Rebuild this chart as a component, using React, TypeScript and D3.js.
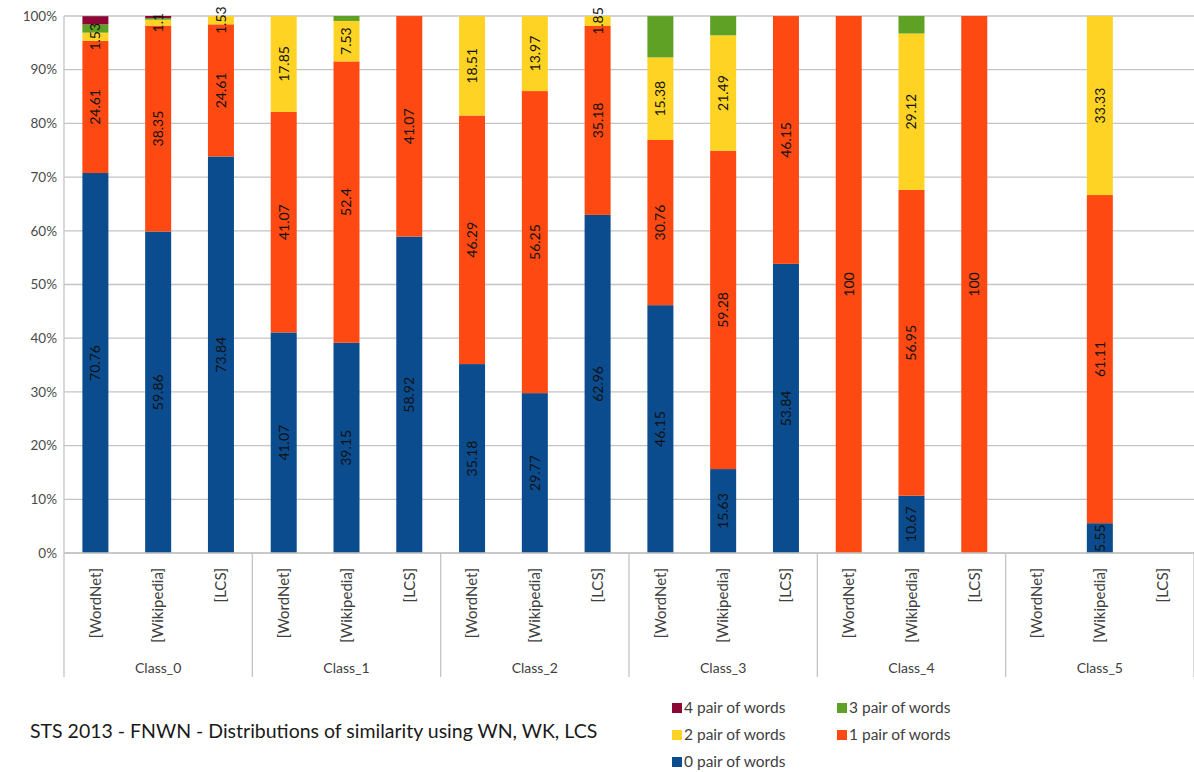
import React from 'react';
import * as d3 from 'd3';

// categories
const classes = ['Class_0', 'Class_1', 'Class_2', 'Class_3', 'Class_4', 'Class_5'];
const methods = ['[WordNet]', '[Wikipedia]', '[LCS]'];

// one value per bar, in order Class_0 WordNet, Class_0 Wikipedia, Class_0 LCS, Class_1 ...
const pair0 = [70.76, 59.86, 73.84, 41.07, 39.15, 58.92, 35.18, 29.77, 62.96, 46.15, 15.63, 53.84, 0, 10.67, 0, 0, 5.55, 0];
const pair1 = [24.61, 38.35, 24.61, 41.07, 52.4, 41.07, 46.29, 56.25, 35.18, 30.76, 59.28, 46.15, 100, 56.95, 100, 0, 61.11, 0];
const pair2 = [1.53, 1.1, 1.53, 17.85, 7.53, 0, 18.51, 13.97, 1.85, 15.38, 21.49, 0, 0, 29.12, 0, 0, 33.33, 0];
const pair3 = [1.53, 0.3, 0, 0, 0.92, 0, 0, 0, 0, 7.69, 3.6, 0, 0, 3.26, 0, 0, 0, 0];
const pair4 = [1.53, 0.39, 0, 0, 0, 0, 0, 0, 0, 0, 0, 0, 0, 0, 0, 0, 0, 0];

const seriesNames = ['0 pair of words', '1 pair of words', '2 pair of words', '3 pair of words', '4 pair of words'];
const seriesColors = ['#0a4c8e', '#fe4a12', '#ffd324', '#5ea124', '#8c0733'];
const labelled = [true, true, true, false, false];
const yTicks = [0, 10, 20, 30, 40, 50, 60, 70, 80, 90, 100];

const font = 'Lato, "Open Sans", sans-serif';

const App = () => {
  const width = 1194;
  const height = 772;
  const left = 64;
  const right = 1194;
  const top = 16;
  const bottom = 553;

  const y = d3.scaleLinear().domain([0, 100]).range([bottom, top]);
  const xGroup = d3.scaleBand().domain(classes).range([left, right]);
  const xInner = d3.scaleBand().domain(methods).range([0, xGroup.bandwidth()]);
  const barW = 26;

  const rows = [];
  classes.forEach((c, ci) => {
    methods.forEach((m, mi) => {
      const i = ci * methods.length + mi;
      rows.push({ cls: c, method: m, s0: pair0[i], s1: pair1[i], s2: pair2[i], s3: pair3[i], s4: pair4[i] });
    });
  });
  const keys = ['s0', 's1', 's2', 's3', 's4'];
  const stacked = d3.stack().keys(keys)(rows);

  const cx = (d) => xGroup(d.cls) + xInner(d.method) + xInner.bandwidth() / 2;

  const legendItems = [
    { s: 4, x: 672, y: 708 },
    { s: 3, x: 837, y: 708 },
    { s: 2, x: 672, y: 735 },
    { s: 1, x: 837, y: 735 },
    { s: 0, x: 672, y: 762 },
  ];

  return (
    <svg width={width} height={height} style={{ position: 'absolute', left: 0, top: 0, background: '#fff' }} fontFamily={font}>
      {/* gridlines */}
      {yTicks.map((t) => (
        <line key={'g' + t} x1={left} x2={right} y1={y(t)} y2={y(t)} stroke="#c4c4c4" strokeWidth={1.3} />
      ))}
      {/* y tick labels */}
      {yTicks.map((t) => (
        <text key={'t' + t} x={57} y={y(t)} dy="0.35em" textAnchor="end" fontSize={13.5} fill="#4a4a4a">{t + '%'}</text>
      ))}
      {/* bars */}
      {stacked.map((layer, si) => (
        <g key={layer.key} fill={seriesColors[si]}>
          {layer.map((d, j) => {
            const v = d[1] - d[0];
            if (v <= 0) return null;
            return <rect key={j} x={cx(d.data) - barW / 2} width={barW} y={y(d[1])} height={y(d[0]) - y(d[1])} />;
          })}
        </g>
      ))}
      {/* data labels */}
      {stacked.map((layer, si) => labelled[si] && (
        <g key={'l' + layer.key}>
          {layer.map((d, j) => {
            const v = d[1] - d[0];
            if (v <= 0) return null;
            const px = cx(d.data);
            const py = y((d[0] + d[1]) / 2);
            return (
              <text key={j} transform={`translate(${px},${py}) rotate(-90)`} textAnchor="middle" dy="0.35em" fontSize={14} fill="#111">
                {String(+v.toFixed(2))}
              </text>
            );
          })}
        </g>
      ))}
      {/* axes */}
      <line x1={left} x2={right} y1={bottom} y2={bottom} stroke="#c4c4c4" strokeWidth={1.3} />
      <line x1={left} x2={left} y1={top} y2={677} stroke="#c4c4c4" strokeWidth={1.3} />
      {classes.map((c) => (
        <g key={c}>
          <line x1={xGroup(c) + xGroup.bandwidth()} x2={xGroup(c) + xGroup.bandwidth()} y1={bottom} y2={677} stroke="#c4c4c4" strokeWidth={1.3} />
          <text x={xGroup(c) + xGroup.bandwidth() / 2} y={668} dy="0.35em" textAnchor="middle" fontSize={14} fill="#404040">{c}</text>
          {methods.map((m) => (
            <text key={m} transform={`translate(${xGroup(c) + xInner(m) + xInner.bandwidth() / 2},${568}) rotate(-90)`} textAnchor="end" dy="0.35em" fontSize={15} fill="#404040">{m}</text>
          ))}
        </g>
      ))}
      {/* title */}
      <text x={30} y={731} dy="0.35em" fontSize={19.5} fill="#1a1a1a">STS 2013 - FNWN  - Distributions of similarity using WN, WK, LCS</text>
      {/* legend */}
      {legendItems.map((it) => (
        <g key={it.s}>
          <rect x={it.x} y={it.y - 5} width={10} height={10} fill={seriesColors[it.s]} />
          <text x={it.x + 12} y={it.y} dy="0.35em" fontSize={15.5} fill="#404040">{seriesNames[it.s]}</text>
        </g>
      ))}
    </svg>
  );
};

export default App;
